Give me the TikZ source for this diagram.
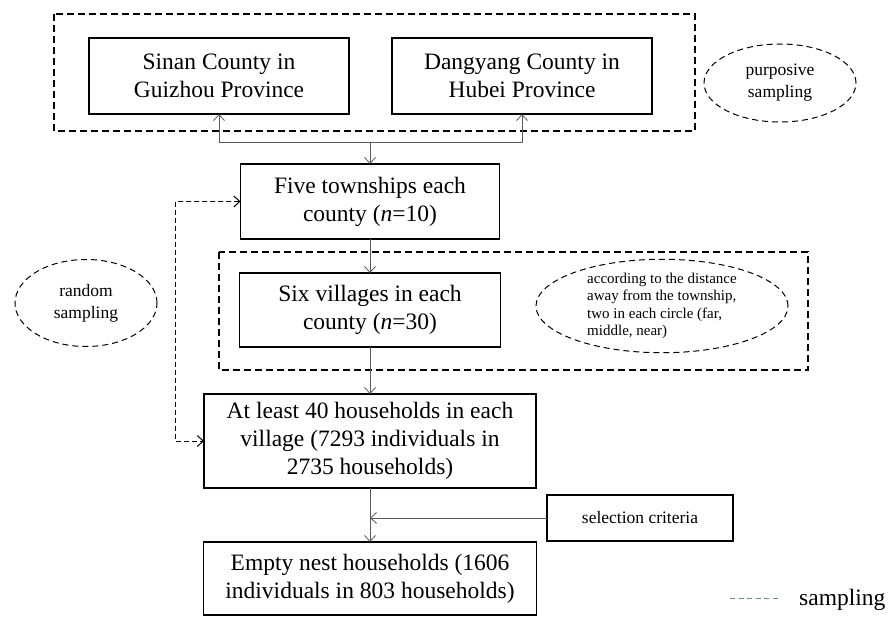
\documentclass[tikz,border=0pt]{standalone}
\usepackage{fontspec}
\setmainfont{Liberation Serif}
\usetikzlibrary{arrows.meta,positioning,shapes.geometric}
\definecolor{linkgray}{RGB}{90,90,90}
\definecolor{legblue}{RGB}{105,135,170}

\begin{document}
\begin{tikzpicture}[x=1pt,y=-1pt,>={Straight Barb[length=6pt,width=11pt]},
  every node/.style={font=\fontsize{23.5}{28}\selectfont},
  box/.style={draw,line width=1.3pt,align=center,inner sep=0pt,outer sep=0pt},
  note/.style={draw,ellipse,line width=1pt,dash pattern=on 6pt off 4pt,align=center,inner sep=0pt,font=\fontsize{17.5}{22}\selectfont},
  group/.style={draw,line width=1.3pt,dash pattern=on 7pt off 4pt},
  link/.style={->,draw=linkgray,line width=0.8pt},
  sampleline/.style={<->,line width=1pt,dash pattern=on 5pt off 3pt}]
\useasboundingbox (0,0) rectangle (889,618);
% counties (purposive sampling)
\node[box,minimum width=260pt,minimum height=76pt] (sinan) at (219,76) {Sinan County in\\Guizhou Province};
\node[box,minimum width=260pt,minimum height=76pt] (dang) at (522,76) {Dangyang County in\\Hubei Province};
\draw[group] (54,14) rectangle (695,131);
\node[note,minimum width=152pt,minimum height=78pt] (purp) at (780,83) {purposive\\sampling};
% sampling chain
\node[box,minimum width=259pt,minimum height=75pt] (town) at (370,201.5) {Five townships each\\county (\textit{n}=10)};
\node[box,below=34pt of town,minimum width=261pt,minimum height=74pt] (vill) {Six villages in each\\county (\textit{n}=30)};
\node[box,below=47pt of vill,minimum width=332pt,minimum height=94pt] (house) {At least 40 households in each\\village (7293 individuals in\\2735 households)};
\node[box,below=54pt of house,minimum width=333pt,minimum height=73pt] (empty) {Empty nest households (1606\\individuals in 803 households)};
\draw[group] (219,252) rectangle (808,370);
\node[note,minimum width=252pt,minimum height=92pt,align=left,font=\fontsize{15}{17.5}\selectfont] (dist) at (662,306) {according to the distance\\away from the township,\\two in each circle (far,\\middle, near)};
\node[note,minimum width=142pt,minimum height=87pt] (rand) at (86,303) {random\\sampling};
\node[box,line width=1.1pt,minimum width=186pt,minimum height=46pt,font=\fontsize{17.5}{22}\selectfont] (crit) at (640,518) {selection criteria};
% connectors
\coordinate (split) at (370,142);
\draw[link] (split) -- (town.north);
\draw[link] (split) -| (sinan.south);
\draw[link] (split) -| (dang.south);
\draw[link] (town) -- (vill);
\draw[link] (vill) -- (house);
\draw[link] (house) -- (empty);
\draw[link] (crit.west) -- (crit.west -| house.south);
\draw[sampleline] (town.west) -- ++(-65,0) |- (house.west);
% legend
\coordinate (legL) at (730,598);
\coordinate (legR) at (778,598);
\draw[legblue,line width=1pt,dash pattern=on 5pt off 3.5pt] (legL) -- (legR);
\node[anchor=west,inner sep=0pt] (legtext) at (799,600) {sampling};
\end{tikzpicture}
\end{document}
